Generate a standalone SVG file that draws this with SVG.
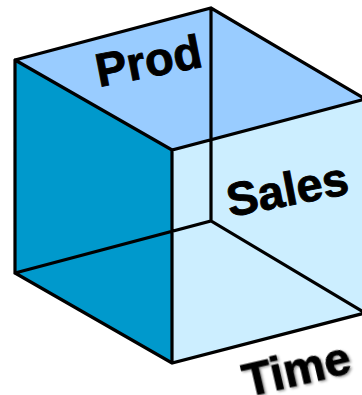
<svg xmlns="http://www.w3.org/2000/svg" width="362" height="395" viewBox="0 0 362 395">
<defs>
<filter id="sh" x="-10%" y="-10%" width="125%" height="130%"><feDropShadow dx="1.5" dy="1.5" stdDeviation="1" flood-color="#000" flood-opacity="0.4"/></filter>
</defs>
<style>
.e{fill:none;stroke:#000;stroke-width:3.2;stroke-linejoin:miter;stroke-linecap:round}
.t{font-family:"Liberation Sans",Arial,sans-serif;font-weight:bold;font-size:47px;fill:#000;stroke:#000;stroke-width:0.9}
</style>
<rect width="362" height="395" fill="#fff"/>
<g id="top-face"><polygon points="15,60 211,8 365,99 172,150" fill="#99ccff"/></g>
<g id="right-face"><polygon points="172,150 365,99 365,313 172,363" fill="#cceeff"/></g>
<g id="left-face"><polygon points="15,60 172,150 172,363 15,273" fill="#0099cc"/></g>
<g id="connectors">
<path class="e" d="M15,60 L211,8 L365,99 M15,60 L172,150 L365,99 M15,60 V273 L172,363 L365,313 M172,150 V363 M211,8 V221 M15,273 L211,221 L365,313"/>
</g>
<g id="label-prod"><text class="t" transform="translate(99,87) rotate(-11)">Prod</text></g>
<g id="label-sales"><text class="t" transform="translate(230,217) rotate(-11)">Sales</text></g>
<g id="label-time"><text class="t" filter="url(#sh)" transform="translate(247,397) rotate(-13)">Time</text></g>
</svg>
